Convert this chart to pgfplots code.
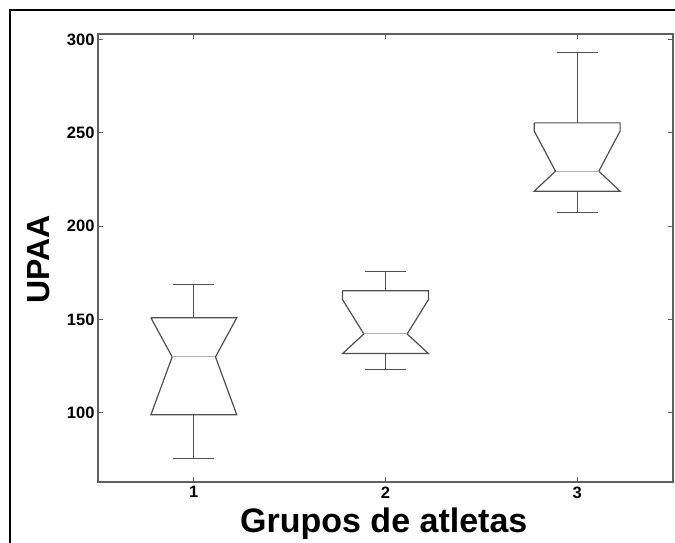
\documentclass[border=0pt]{standalone}
\usepackage{pgfplots}
\pgfplotsset{compat=1.18}
\usepackage{fontspec}
\setmainfont{Liberation Sans}
\definecolor{axgray}{HTML}{606060}
\definecolor{boxgray}{HTML}{505050}
\definecolor{medgray}{HTML}{B0B0B0}
\begin{document}
\begin{tikzpicture}[x=1pt,y=1pt]
\useasboundingbox (0,0) rectangle (675,542);
\fill[white] (0,0) rectangle (675,542);
\draw[black, line width=1.3pt] (10,-20) -- (10,532) -- (700,532);
\begin{axis}[
  at={(98pt,60pt)}, anchor=south west,
  scale only axis, width=575pt, height=448pt,
  xmin=0.5, xmax=3.5, ymin=63, ymax=303,
  xtick={1,2,3}, ytick={100,150,200,250,300},
  tick align=inside, major tick length=5pt,
  axis line style={axgray, line width=1.2pt},
  every tick/.style={axgray, line width=0.9pt},
  /pgf/number format/assume math mode=true,
  ticklabel style={font=\fontsize{16.5}{16.5}\selectfont\bfseries},
  xticklabel style={yshift=-1pt},
  yticklabel style={xshift=0pt},
  xlabel={Grupos de atletas},
  ylabel={UPAA},
  xlabel style={font=\fontsize{34}{34}\selectfont\bfseries, at={(axis description cs:0.497,-0.1116)}, anchor=base},
  ylabel style={font=\fontsize{32}{32}\selectfont\bfseries, at={(axis description cs:-0.0835,0.497)}, anchor=base, rotate=0},
  clip=false,
]
% Box 1
\addplot[boxgray, line width=1.2pt] coordinates {(0.776,151) (1.224,151) (1.113,130) (1.224,99) (0.776,99) (0.887,130) (0.776,151)};
\addplot[medgray, line width=1.0pt] coordinates {(0.887,130) (1.113,130)};
\addplot[boxgray, line width=1.2pt] coordinates {(1,151) (1,169)};
\addplot[boxgray, line width=1.2pt] coordinates {(0.893,169) (1.107,169)};
\addplot[boxgray, line width=1.2pt] coordinates {(1,99) (1,75.5)};
\addplot[boxgray, line width=1.2pt] coordinates {(0.893,75.5) (1.107,75.5)};
% Box 2
\addplot[boxgray, line width=1.2pt] coordinates {(1.776,165.5) (2.224,165.5) (2.224,160.7) (2.113,142.3) (2.224,131.8) (1.776,131.8) (1.887,142.3) (1.776,160.7) (1.776,165.5)};
\addplot[medgray, line width=1.0pt] coordinates {(1.887,142.3) (2.113,142.3)};
\addplot[boxgray, line width=1.2pt] coordinates {(2,165.5) (2,175.6)};
\addplot[boxgray, line width=1.2pt] coordinates {(1.893,175.6) (2.107,175.6)};
\addplot[boxgray, line width=1.2pt] coordinates {(2,131.8) (2,123.2)};
\addplot[boxgray, line width=1.2pt] coordinates {(1.893,123.2) (2.107,123.2)};
% Box 3
\addplot[boxgray, line width=1.2pt] coordinates {(2.776,255.4) (3.224,255.4) (3.224,251) (3.113,229.5) (3.224,218.8) (2.776,218.8) (2.887,229.5) (2.776,251) (2.776,255.4)};
\addplot[medgray, line width=1.0pt] coordinates {(2.887,229.5) (3.113,229.5)};
\addplot[boxgray, line width=1.2pt] coordinates {(3,255.4) (3,292.9)};
\addplot[boxgray, line width=1.2pt] coordinates {(2.893,292.9) (3.107,292.9)};
\addplot[boxgray, line width=1.2pt] coordinates {(3,218.8) (3,207.2)};
\addplot[boxgray, line width=1.2pt] coordinates {(2.893,207.2) (3.107,207.2)};
\end{axis}
\end{tikzpicture}
\end{document}
